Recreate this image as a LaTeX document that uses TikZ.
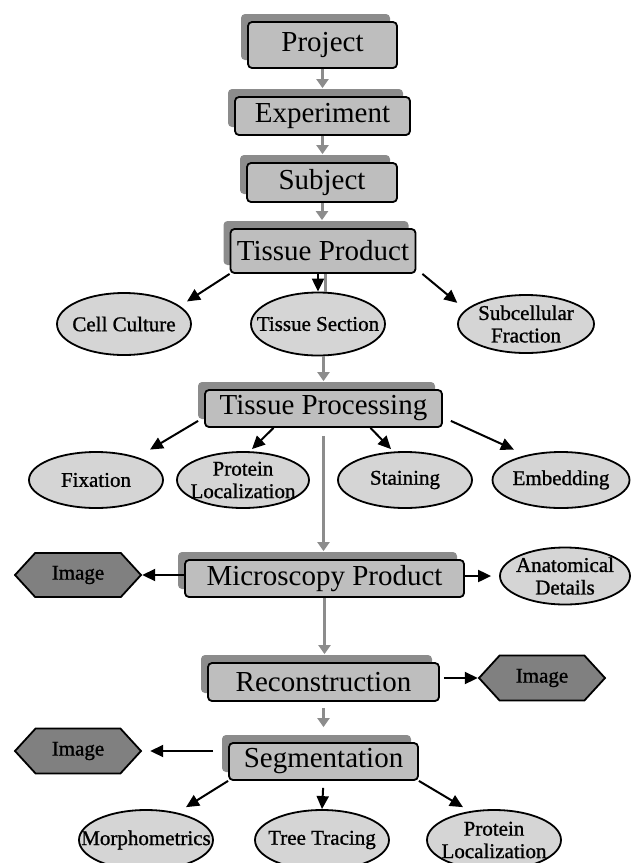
\documentclass[tikz,border=0pt]{standalone}
\usepackage{fontspec}
\setmainfont{Liberation Serif}
\newfontfamily\ovalfont[FakeBold=1]{Liberation Serif}
\usepackage{tikz}
\usetikzlibrary{arrows.meta,shapes.geometric,shapes.symbols,shadows}

\definecolor{boxgray}{RGB}{190,190,190}
\definecolor{shadegray}{RGB}{140,140,140}
\definecolor{ovalgray}{RGB}{213,213,213}
\definecolor{hexgray}{RGB}{128,128,128}
\definecolor{flowgray}{RGB}{140,140,140}

\tikzset{
	entity/.style={draw, line width=1.8pt, rounded corners=4pt, fill=boxgray, inner sep=0pt,
		font=\fontsize{29}{30}\selectfont,
		drop shadow={shadow xshift=-7pt, shadow yshift=8pt, opacity=1, fill=shadegray}},
	oval/.style={ellipse, draw, line width=1.8pt, fill=ovalgray, inner xsep=-18pt, inner ysep=-6pt,
		align=center, minimum width=134pt, minimum height=58pt,
		font=\ovalfont\fontsize{21}{22.5}\selectfont},
	picnode/.style={signal, signal to=west and east, signal pointer angle=95, draw,
		line width=1.8pt, fill=hexgray, inner sep=0pt, minimum width=126pt, minimum height=44pt,
		font=\ovalfont\fontsize{21}{22}\selectfont},
	flow/.style={draw=flowgray, line width=3pt, -{Triangle[width=12pt,length=9pt]}},
	flowline/.style={draw=flowgray, line width=3pt},
	link/.style={draw=black, line width=2pt, -{Triangle[width=12pt,length=13pt]}},
}

\begin{document}
\begin{tikzpicture}[x=1pt,y=-1pt]
			%%%%% START %%%%%
			\useasboundingbox (0,0) rectangle (636,863);
			\clip (0,0) rectangle (636,863);
			
			% main chain
			\node[entity, minimum width=149pt, minimum height=46pt] (proj) at (322.5,45) {Project};
			\node[entity, minimum width=175pt, minimum height=38pt] (exp) at (322.5,116) {Experiment};
			\node[entity, minimum width=150pt, minimum height=39pt] (subj) at (322,182.5) {Subject};
			\node[entity, minimum width=185pt, minimum height=44pt] (tprod) at (323,251) {Tissue Product};
			\node[entity, minimum width=237pt, minimum height=37pt] (tproc) at (323.5,408.5) {Tissue Processing};
			\node[entity, minimum width=279pt, minimum height=37pt] (micro) at (324.5,578.5) {Microscopy Product};
			\node[entity, minimum width=231pt, minimum height=38pt] (recon) at (323.5,682) {Reconstruction};
			\node[entity, minimum width=189pt, minimum height=37pt] (segm) at (323.5,761.5) {Segmentation};
			
			% tissue product kinds
			\node[oval, minimum height=62pt] (cult) at (124,324) {Cell Culture};
			\node[oval, minimum height=63pt] (sect) at (318,324) {Tissue Section};
			\node[oval, minimum width=136pt] (subc) at (526,324) {Subcellular\\Fraction};
			
			% processing steps
			\node[oval, minimum height=56pt] (fix) at (96,480) {Fixation};
			\node[oval, minimum width=132pt, minimum height=56pt] (prot) at (243,480) {Protein\\Localization};
			\node[oval, minimum height=56pt] (stain) at (405,480) {Staining};
			\node[oval, minimum width=137pt, minimum height=56pt] (embed) at (561,480) {Embedding};
			
			\node[picnode] (imgA) at (78,575) {Image};
			\node[oval, minimum width=130pt, minimum height=57pt] (anat) at (565,576) {Anatomical\\Details};
			\node[picnode, minimum height=45pt] (imgB) at (542,678) {Image};
			\node[picnode, minimum height=45pt] (imgC) at (78,751) {Image};
			
			% segmentation results
			\node[oval, minimum height=60pt] (morph) at (146,840) {Morphometrics};
			\node[oval, minimum height=60pt] (tree) at (322,840) {Tree Tracing};
			\node[oval, minimum height=60pt] (protB) at (494,840) {Protein\\Localization};
			
			% gray flow
			\draw[flow, shorten >=8pt] (proj.south) -- (proj.south |- exp.north);
			\draw[flow, shorten >=8pt] (exp.south) -- (exp.south |- subj.north);
			\draw[flow, shorten >=8pt] (subj.south) -- (subj.south |- tprod.north);
			\draw[flowline] ([xshift=2pt]tprod.south) -- ([xshift=7pt]sect.north);
			\draw[flow, shorten >=8pt] (sect.south -| tproc.north) -- (tproc.north);
			\draw[flow, shorten <=8pt, shorten >=8pt] (tproc.south) -- (tproc.south |- micro.north);
			\draw[flow, shorten >=8pt] (micro.south) -- (micro.south |- recon.north);
			\draw[flow, shorten <=6pt, shorten >=15pt] (recon.south) -- (recon.south |- segm.north);
			
			% black links
			\draw[link] (tprod.south west) -- ([xshift=15pt]cult.north east);
			\draw[link] ([xshift=-5pt]tprod.south) -- (sect.north);
			\draw[link] ([xshift=6pt]tprod.south east) -- ([xshift=-20pt]subc.north west);
			
			\draw[link] ([xshift=-6pt,yshift=7pt]tproc.south west) -- ([xshift=6pt,yshift=10pt]fix.north east);
			\draw[link] ([xshift=-50pt]tproc.south) -- ([xshift=9pt,yshift=2pt]prot.north);
			\draw[link] ([xshift=47pt]tproc.south) -- ([xshift=-14pt,yshift=2pt]stain.north);
			\draw[link] ([xshift=8pt,yshift=7pt]tproc.south east) -- ([xshift=2pt,yshift=10pt]embed.north west);
			
			\draw[link] (micro.west |- imgA.east) -- (imgA.east);
			\draw[link, shorten >=8pt] (micro.east |- anat.west) -- (anat.west);
			\draw[link, shorten <=4pt] (recon.east |- imgB.west) -- (imgB.west);
			\draw[link, shorten <=15pt, shorten >=8pt] (segm.west |- imgC.east) -- (imgC.east);
			
			\draw[link] (segm.south west) -- ([xshift=-8pt,yshift=11pt]morph.north east);
			\draw[link, shorten <=7pt] (segm.south) -- (tree.north);
			\draw[link] (segm.south east) -- ([xshift=17pt,yshift=11pt]protB.north west);
			
			%%%%% END %%%%%
\end{tikzpicture}
\end{document}
